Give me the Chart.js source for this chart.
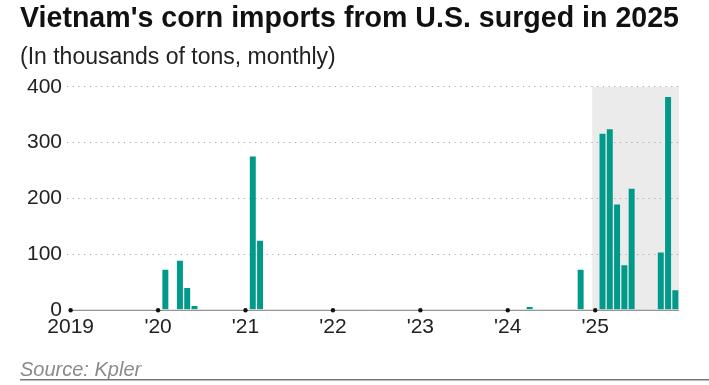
<!DOCTYPE html>
<html>
<head>
<meta charset="utf-8">
<script src="https://cdn.jsdelivr.net/npm/chart.js@4/dist/chart.umd.min.js"></script>
<style>
  html, body { margin: 0; padding: 0; background: #fff; }
  #wrap { width: 709px; height: 385px; position: relative; }
</style>
</head>
<body>
<div id="wrap"><canvas id="chart"></canvas></div>
<script>
// months and years on the x axis
const years = ['2019', '2020', '2021', '2022', '2023', '2024', '2025']
const months = ['Jan', 'Feb', 'Mar', 'Apr', 'May', 'Jun', 'Jul', 'Aug', 'Sep', 'Oct', 'Nov', 'Dec']
const yearTicks = ['2019', "'20", "'21", "'22", "'23", "'24", "'25"]

// corn imports from the U.S., thousands of tons, Jan..Dec of each year
const imports2019 = [0, 0, 0, 0, 0, 0, 0, 0, 0, 0, 0, 0]
const imports2020 = [0, 72, 0, 88, 39, 7, 0, 0, 0, 0, 0, 0]
const imports2021 = [0, 275, 124, 0, 0, 0, 0, 0, 0, 0, 0, 0]
const imports2022 = [0, 0, 0, 0, 0, 0, 0, 0, 0, 0, 0, 0]
const imports2023 = [0, 0, 0, 0, 0, 0, 0, 0, 0, 0, 0, 0]
const imports2024 = [0, 0, 0, 5, 0, 0, 0, 0, 0, 0, 72, 0]
const imports2025 = [0, 316, 324, 189, 80, 217, 0, 0, 0, 103, 382, 35]

const yTicks = [0, 100, 200, 300, 400]

const labels = []
years.forEach(y => months.forEach(m => labels.push(m + ' ' + y)))
const values = [].concat(imports2019, imports2020, imports2021, imports2022, imports2023, imports2024, imports2025)

const FONT = '"Liberation Sans", Arial, sans-serif'
const TEAL = '#00998a'
const BAR_PCT = 0.82

// grey band behind 2025, grid and bars are drawn on top of it
const highlight = {
    id: 'highlight',
    beforeDraw (chart) {
        const {ctx, chartArea, scales: {x, y}} = chart
        const pitch = x.getPixelForValue(1) - x.getPixelForValue(0)
        const left = x.getPixelForValue(labels.indexOf('Jan 2025')) - pitch * BAR_PCT / 2
        ctx.save()
        ctx.fillStyle = '#ebebeb'
        ctx.fillRect(left, y.getPixelForValue(400), chartArea.right - left, y.getPixelForValue(0) - y.getPixelForValue(400))
        ctx.restore()
    }
}

// baseline, year dots and the source note
const extras = {
    id: 'extras',
    afterDraw (chart) {
        const {ctx, chartArea, scales: {x, y}} = chart
        const y0 = y.getPixelForValue(0)
        ctx.save()
        ctx.strokeStyle = '#7a7a7a'
        ctx.lineWidth = 1
        ctx.beginPath()
        ctx.moveTo(x.getPixelForValue(0), y0 + 0.5)
        ctx.lineTo(chartArea.right, y0 + 0.5)
        ctx.stroke()

        ctx.fillStyle = '#111'
        for (let i = 0; i < labels.length; i += 12) {
            ctx.beginPath()
            ctx.arc(x.getPixelForValue(i), y0 + 0.5, 2.2, 0, Math.PI * 2)
            ctx.fill()
        }

        ctx.fillStyle = '#8a8a8a'
        ctx.font = 'italic 20px ' + FONT
        ctx.textBaseline = 'alphabetic'
        ctx.fillText('Source: Kpler', 20, 376)

        ctx.fillStyle = '#777'
        ctx.fillRect(20, 379, chart.width - 20, 1.5)
        ctx.restore()
    }
}

const chart = new Chart(document.getElementById('chart'), {
    type: 'bar',
    data: {
        labels: labels,
        datasets: [{
            data: values,
            backgroundColor: TEAL,
            borderWidth: 0,
            categoryPercentage: 1,
            barPercentage: BAR_PCT
        }]
    },
    options: {
        responsive: true,
        maintainAspectRatio: false,
        animation: false,
        layout: { padding: { left: 20, right: 30, top: 0, bottom: 40 } },
        plugins: {
            legend: { display: false },
            tooltip: { enabled: false },
            title: {
                display: true,
                text: "Vietnam's corn imports from U.S. surged in 2025",
                align: 'start',
                color: '#111',
                font: { family: FONT, size: 28.8, weight: 'bold' },
                padding: { top: 1.5, bottom: 3.5 }
            },
            subtitle: {
                display: true,
                text: '(In thousands of tons, monthly)',
                align: 'start',
                color: '#222',
                font: { family: FONT, size: 23 },
                padding: { top: 4.3, bottom: 15.4 }
            }
        },
        scales: {
            x: {
                offset: true,
                grid: { display: false, drawTicks: false },
                border: { display: false },
                ticks: {
                    autoSkip: false,
                    maxRotation: 0,
                    padding: 5,
                    color: '#222',
                    font: { family: FONT, size: 21 },
                    callback: (v, i) => i % 12 === 0 ? yearTicks[i / 12] : null
                }
            },
            y: {
                min: 0,
                max: 400,
                afterBuildTicks: scale => { scale.ticks = yTicks.map(v => ({value: v})) },
                afterFit: scale => { scale.width = 47 },
                border: { display: false, dash: [1.2, 4.5] },
                grid: {
                    drawTicks: false,
                    color: c => c.tick.value === 0 ? 'rgba(0,0,0,0)' : '#a8a8a8',
                    lineWidth: 1
                },
                ticks: {
                    padding: 5,
                    color: '#222',
                    font: { family: FONT, size: 21 }
                }
            }
        }
    },
    plugins: [highlight, extras]
})
</script>
</body>
</html>
